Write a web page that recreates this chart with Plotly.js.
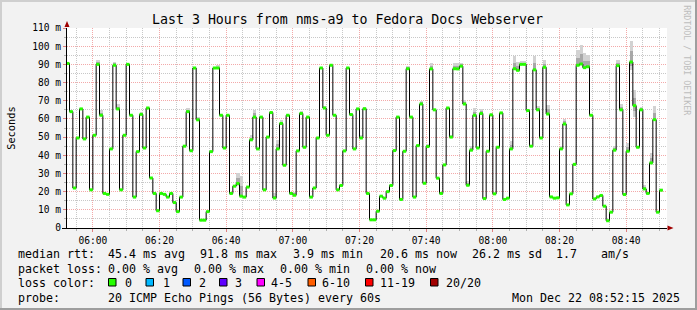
<!DOCTYPE html>
<html><head><meta charset="utf-8">
<script src="https://cdn.plot.ly/plotly-3.0.1.min.js"></script>
<style>html,body{margin:0;padding:0;background:#f2f2f2}#chart{width:697px;height:310px}</style>
</head><body><div id="chart"></div>
<script>
// ---- data (median RTT in ms, one value per 60 s sample, first sample at 05:52:00) ----
const sampleStartUTC = Date.UTC(2025, 11, 22, 5, 52, 0);
const sampleStepMs = 60000;
const medianMs = [
 90.5,64,22,49.5,65.5,49,61,21,51,90, 62,19,18.5,43.5,89.5,65.5,21,51,90,62,
 17,42,62.5,44,66,27.5,19,9.5,19,18.5, 17,19,14,9,17,45,64,42.5,88,59.5,
 4.3,4.3,9,42,88,88,62,44,62,19, 23,24.5,17.5,17,22.5,48.5,61,43.5,61,21,
 50,63.5,16.5,43.5,57.5,34.5,62,19,18,42.4, 63,44.4,61,17,22,49.5,88,66,51,89.5,
 62,21,23.4,42.4,88,62.4,43.5,65.5,49.5,65.6, 19,4.5,4.5,9.2,17.5,16.4,20,23.4,42.6,61,
 15.7,42.2,87.6,61,17,45.3,68.2,24.6,44.8,87.5, 65,27.4,19,34.7,66,50,87.6,87.5,89,68.2,
 23.5,42.8,62,44,63,16.2,42.2,62.2,18.8,44.4, 63.3,15.7,16.4,43.5,87.6,86.7,90,90,64.6,45,
 87,65,49.5,88.4,62.7,17.1,16.4,16.6,43.5,57.2, 12.7,18.8,35,89.5,90.2,88.2,88.7,62,16,17.1,
 17.9,12,4,8.7,42.8,89.3,65,18.4,42.2,91.3, 67.3,44.4,65,21.5,19,35.8,59.6,8.7,20.8
];
// smoke (spread of the 20 pings) for the samples where it is visible: 1-based sample, low, high (ms)
const smokeSample = [10,11,15,16,23,37,40,46,52,53,56,57,63,64,65,69,71,78,89,90,103,107,109,110,116,117,118,119,120,121,122,123,125,128,134,135,136,137,138,141,142,144,145,149,150,154,155,156,157,165,166,167,169,170,171,173,174,176,177];
const smokeLow    = [90,62,89.5,65.5,62.5,64,59.5,88,23,17.5,48.5,61,16.5,43.5,57.4,18,63,66,49.5,65.6,87.6,68.2,44.8,87.5,50,87.6,87.5,89,68.2,23.5,42.8,62,63,62.2,43.5,87.6,86.7,90,90,87,65,88.4,62.7,43.5,57.2,89.5,90.2,88.2,88.7,42.8,89.3,65,42.2,87,61,65,21.5,35.8,59.6];
const smokeHigh   = [92.5,65,91.5,68,64,66,61,89.5,30,28.5,51,65,19,48.5,59.2,20,64.5,67.3,51,66.8,89,70,46.4,90.7,51.3,91,91,91,70.5,25.6,45,66,65.4,63.2,47.7,94.4,91.5,92,92,94.4,67,92.5,67.8,45,60,98,100.8,96,95,45,92.5,68.4,46.8,103,76,66.5,23.5,41.3,67.3];

const yTickVals = [0,10,20,30,40,50,60,70,80,90,100,110];
const yTickText = ['0','10 m','20 m','30 m','40 m','50 m','60 m','70 m','80 m','90 m','100 m','110 m'];

const lossLabels = ['0','1','2','3','4-5','6-10','11-19','20/20'];
const lossColors = ['#26ff00','#00b8ff','#0059ff','#5e00ff','#ff00ff','#ff5e00','#ff0000','#a10000'];

const statsRtt  = ['45.4 ms avg','91.8 ms max','3.9 ms min','20.6 ms now','26.2 ms sd','1.7','am/s'];
const statsLoss = ['0.00 % avg','0.00 % max','0.00 % min','0.00 % now'];
const probeText = '20 ICMP Echo Pings (56 Bytes) every 60s';
const stampText = 'Mon Dec 22 08:52:15 2025';
const titleText = 'Last 3 Hours from nms-a9 to Fedora Docs Webserver';

// ---- build traces ----
const t = medianMs.map((_, i) => sampleStartUTC + i * sampleStepMs);
const mono = 'DejaVu Sans Mono, monospace';

const smokeX = smokeSample.map(k => t[k - 1]);
const smokeMed = smokeSample.map(k => medianMs[k - 1]);
const darkLo = smokeLow.map((lo, i) => smokeMed[i] - (smokeMed[i] - lo) * 0.5);
const darkHi = smokeHigh.map((hi, i) => smokeMed[i] + (hi - smokeMed[i]) * 0.5);

const traces = [
  {type:'bar', x:smokeX, base:smokeLow, y:smokeHigh.map((h,i)=>h-smokeLow[i]), width:sampleStepMs, offset:0,
   marker:{color:'#d2d2d2', line:{width:0}}, hoverinfo:'skip'},
  {type:'bar', x:smokeX, base:darkLo, y:darkHi.map((h,i)=>h-darkLo[i]), width:sampleStepMs, offset:0,
   marker:{color:'#a8a8a8', line:{width:0}}, hoverinfo:'skip'},
  {type:'scatter', mode:'lines', x:t.concat([t[t.length-1]+sampleStepMs]), y:medianMs.concat([medianMs[medianMs.length-1]]),
   line:{shape:'hv', color:'#000000', width:1}, hoverinfo:'skip'}
];
const gx = [], gy = [];
t.forEach((ti, i) => { gx.push(ti, ti + sampleStepMs, null); gy.push(medianMs[i], medianMs[i], null); });
traces.push({type:'scatter', mode:'lines', x:gx, y:gy, line:{color:lossColors[0], width:3}, connectgaps:false, hoverinfo:'skip'});

// ---- pixel helpers (plot area: x 67..667, y 28..228) ----
const PL = 67, PW = 600, PT = 28, PH = 200;
const px = v => (v - PL) / PW;
const py = v => (PT + PH - v) / PH;
function ann(x, y, text, o) {
  o = o || {};
  return Object.assign({xref:'paper', yref:'paper', x:px(x), y:py(y), text:text, showarrow:false,
    xanchor:'left', yanchor:'middle', borderpad:0,
    font:{family:mono, size:11.63, color:'#000'}}, o);
}
const rowY = [254, 268.5, 283, 297.5];
const annotations = [];
annotations.push(ann(10.8, 128, 'Seconds', {xanchor:'center', textangle:-90, font:{family:mono, size:10.3, color:'#000'}}));
annotations.push(ann(686.7, 60, 'RRDTOOL / TOBI OETIKER', {xanchor:'center', textangle:90, font:{family:mono, size:8.3, color:'#bdbdbd'}}));
annotations.push(ann(16.7, rowY[0], 'median rtt:'));
[107.3,198.5,292,378.5,470.5,555,600].forEach((x,i)=>annotations.push(ann(x, rowY[0], statsRtt[i])));
annotations.push(ann(16.7, rowY[1], 'packet loss:'));
[107.3,193.3,279.3,365.3].forEach((x,i)=>annotations.push(ann(x, rowY[1], statsLoss[i])));
annotations.push(ann(16.7, rowY[2], 'loss color:'));
const boxX = [108,145.5,182.5,219,256.5,307.5,365,430];
const labX = [124,161.7,197.7,233.7,270.3,321.3,379.3,444.7];
const shapes = [];
lossLabels.forEach((l,i)=>{
  annotations.push(ann(labX[i], rowY[2], l));
  shapes.push({type:'rect', xref:'paper', yref:'paper', x0:px(boxX[i]+0.5), x1:px(boxX[i]+8), y0:py(rowY[2]-4.5), y1:py(rowY[2]+3),
    fillcolor:lossColors[i], line:{color:'#000', width:1}});
});
annotations.push(ann(16.7, rowY[3], 'probe:'));
annotations.push(ann(107.3, rowY[3], probeText));
annotations.push(ann(680.7, rowY[3], stampText, {xanchor:'right'}));

// frame and axis arrows
shapes.push({type:'line', xref:'paper', yref:'paper', x0:px(0), x1:px(697), y0:py(1), y1:py(1), line:{color:'#cfcfcf', width:2}});
shapes.push({type:'line', xref:'paper', yref:'paper', x0:px(1), x1:px(1), y0:py(0), y1:py(310), line:{color:'#cfcfcf', width:2}});
shapes.push({type:'line', xref:'paper', yref:'paper', x0:px(0), x1:px(697), y0:py(309), y1:py(309), line:{color:'#9e9e9e', width:2}});
shapes.push({type:'line', xref:'paper', yref:'paper', x0:px(696), x1:px(696), y0:py(0), y1:py(310), line:{color:'#9e9e9e', width:2}});
shapes.push({type:'line', xref:'paper', yref:'paper', x0:px(62), x1:px(67), y0:py(228.5), y1:py(228.5), line:{color:'#000', width:1}});
shapes.push({type:'path', xref:'paper', yref:'paper',
  path:`M ${px(67)} ${py(21)} L ${px(64.5)} ${py(27)} L ${px(69.5)} ${py(27)} Z`, fillcolor:'#a00000', line:{width:0}});
shapes.push({type:'path', xref:'paper', yref:'paper',
  path:`M ${px(673.5)} ${py(228)} L ${px(667.5)} ${py(225.5)} L ${px(667.5)} ${py(230.5)} Z`, fillcolor:'#a00000', line:{width:0}});

const layout = {
  width:697, height:310,
  margin:{l:PL, r:697-PL-PW, t:PT, b:310-PT-PH, pad:0},
  paper_bgcolor:'#f2f2f2', plot_bgcolor:'#ffffff',
  showlegend:false, barmode:'overlay', bargap:0,
  font:{family:mono, size:9.6, color:'#000'},
  title:{text:titleText, x:347.5/697, xanchor:'center', xref:'container', y:1-19/310, yanchor:'middle', yref:'container',
         font:{family:mono, size:13.26, color:'#000'}},
  xaxis:{type:'date', range:['2025-12-22 05:52:15','2025-12-22 08:52:15'],
    tick0:'2025-12-22 06:00:00', dtick:1200000, tickformat:'%H:%M',
    showgrid:true, gridcolor:'#f3a9a9', griddash:'1px,1px', gridwidth:1,
    ticks:'outside', ticklen:3, tickcolor:'#e08080',
    minor:{dtick:300000, tick0:'2025-12-22 06:00:00', showgrid:true, gridcolor:'#c8c8c8', griddash:'1px,1px', ticks:'outside', ticklen:2, tickcolor:'#b0b0b0'},
    showline:true, linecolor:'#000', linewidth:1, zeroline:false, fixedrange:true,
    tickfont:{family:mono, size:9.6, color:'#000'}},
  yaxis:{range:[0,110], tickvals:yTickVals, ticktext:yTickText,
    showgrid:true, gridcolor:'#f3a9a9', griddash:'1px,1px', gridwidth:1,
    ticks:'outside', ticklen:3, tickcolor:'#e08080',
    minor:{dtick:5, tick0:0, showgrid:true, gridcolor:'#c8c8c8', griddash:'1px,1px', ticks:'outside', ticklen:2, tickcolor:'#b0b0b0'},
    showline:true, linecolor:'#000', linewidth:1, zeroline:false, fixedrange:true,
    tickfont:{family:mono, size:9.6, color:'#000'}},
  annotations:annotations, shapes:shapes
};
Plotly.newPlot('chart', traces, layout, {staticPlot:true, displayModeBar:false});
</script></body></html>
